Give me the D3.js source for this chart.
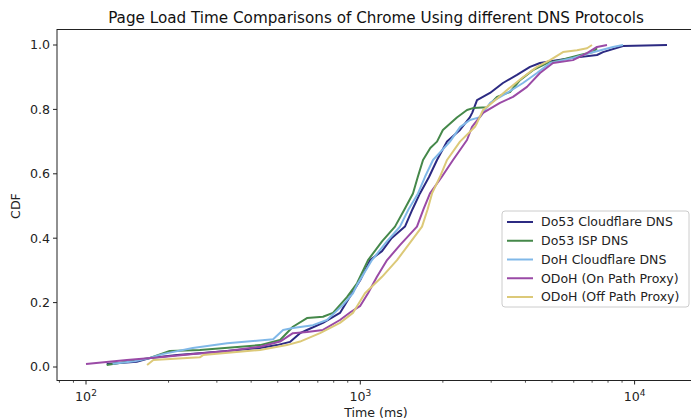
<!DOCTYPE html>
<html><head><meta charset="utf-8">
<script src="https://cdn.jsdelivr.net/npm/d3@7"></script>
<style>body{margin:0;background:#fff}svg{display:block;font-family:"DejaVu Sans",sans-serif}</style>
</head><body><svg id="c" width="691" height="420"></svg>
<script>
const seriesNames = ["Do53 Cloudflare DNS","Do53 ISP DNS","DoH Cloudflare DNS","ODoH (On Path Proxy)","ODoH (Off Path Proxy)"];
const seriesColors = ["#2c2a82","#45884a","#80b8e8","#9a4aa6","#dcc978"];
const xTicks = [100,1000,10000];
const xTickLabels = ["2","3","4"];
const yTicks = [0,0.2,0.4,0.6,0.8,1.0];

const do53Cloudflare = [[119,0.009],[153,0.016],[171,0.028],[215,0.037],[260,0.043],[327,0.05],[431,0.059],[497,0.068],[554,0.078],[603,0.105],[639,0.115],[731,0.137],[843,0.168],[933,0.229],[1000,0.27],[1085,0.332],[1200,0.36],[1300,0.40],[1455,0.436],[1550,0.49],[1650,0.539],[1780,0.59],[1904,0.643],[2071,0.70],[2309,0.736],[2511,0.776],[2560,0.79],[2664,0.829],[2971,0.851],[3312,0.882],[3726,0.907],[4156,0.932],[4520,0.944],[5214,0.953],[5962,0.96],[7295,0.969],[7670,0.978],[9073,0.997],[13124,1.0]];
const do53Isp = [[119,0.006],[171,0.028],[202,0.05],[260,0.053],[431,0.068],[510,0.084],[568,0.125],[639,0.152],[731,0.156],[795,0.168],[894,0.217],[973,0.26],[1067,0.332],[1200,0.39],[1338,0.436],[1450,0.49],[1556,0.539],[1620,0.59],[1693,0.643],[1800,0.68],[1904,0.70],[2000,0.736],[2250,0.775],[2449,0.798],[2575,0.804],[2897,0.807],[3150,0.839],[3513,0.854],[3821,0.891],[4262,0.922],[4793,0.944],[5346,0.953],[6324,0.969],[7054,0.978],[7295,0.99]];
const dohCloudflare = [[125,0.01],[150,0.018],[171,0.028],[190,0.04],[245,0.059],[327,0.074],[481,0.086],[523,0.115],[568,0.121],[672,0.13],[756,0.146],[865,0.193],[940,0.229],[973,0.255],[1103,0.332],[1250,0.39],[1395,0.436],[1500,0.49],[1623,0.539],[1720,0.59],[1841,0.643],[2123,0.70],[2309,0.745],[2511,0.767],[2732,0.776],[2971,0.82],[3426,0.851],[3918,0.882],[4407,0.913],[4916,0.944],[5962,0.96],[6878,0.975],[8343,0.994],[9073,1.0]];
const odohOnPath = [[100,0.009],[141,0.022],[186,0.03],[246,0.04],[327,0.05],[431,0.063],[510,0.079],[568,0.105],[639,0.109],[731,0.115],[843,0.146],[920,0.17],[1000,0.19],[1067,0.229],[1150,0.28],[1252,0.332],[1400,0.38],[1609,0.436],[1700,0.49],[1795,0.539],[1980,0.59],[2178,0.643],[2449,0.705],[2554,0.746],[2802,0.789],[3230,0.82],[3603,0.839],[4052,0.87],[4520,0.913],[5041,0.944],[5962,0.953],[6707,0.975],[7295,0.994],[7932,1.0]];
const odohOffPath = [[167,0.006],[176,0.022],[260,0.03],[267,0.037],[431,0.053],[540,0.068],[603,0.079],[713,0.105],[843,0.137],[940,0.168],[1040,0.229],[1200,0.28],[1361,0.332],[1500,0.38],[1679,0.436],[1760,0.49],[1826,0.539],[1950,0.59],[2071,0.643],[2309,0.70],[2619,0.746],[2664,0.758],[2802,0.798],[3046,0.823],[3426,0.86],[3918,0.90],[4407,0.932],[4916,0.953],[5483,0.978],[6166,0.984],[6707,0.99],[6994,1.0]];
const allSeries = [do53Cloudflare, do53Isp, dohCloudflare, odohOnPath, odohOffPath];

const svg = d3.select("#c");
const pLeft = 57, pRight = 695, pTop = 29.5, pBottom = 380.5;
const x = d3.scaleLog().domain([100,10000]).range([86,634.6]);
const y = d3.scaleLinear().domain([0,1]).range([367,45]);

svg.append("text").attr("x",(pLeft+pRight)/2).attr("y",22.5).attr("text-anchor","middle")
  .attr("font-size",15.2).attr("fill","#111").text("Page Load Time Comparisons of Chrome Using different DNS Protocols");

const line = d3.line().x(d=>x(d[0])).y(d=>y(d[1]));
const g = svg.append("g");
allSeries.forEach((s,i)=>{
  g.append("path").datum(s).attr("d",line).attr("fill","none")
   .attr("stroke",seriesColors[i]).attr("stroke-width",2).attr("stroke-linejoin","round");
});

svg.append("rect").attr("x",pLeft).attr("y",pTop).attr("width",pRight-pLeft).attr("height",pBottom-pTop)
  .attr("fill","none").attr("stroke","#222").attr("stroke-width",1);

yTicks.forEach(v=>{
  svg.append("line").attr("x1",pLeft-4).attr("x2",pLeft).attr("y1",y(v)).attr("y2",y(v)).attr("stroke","#222");
  svg.append("text").attr("x",pLeft-7).attr("y",y(v)).attr("dy","0.35em").attr("text-anchor","end")
    .attr("font-size",12.6).attr("fill","#222").text(d3.format(".1f")(v));
});
xTicks.forEach((v,i)=>{
  svg.append("line").attr("x1",x(v)).attr("x2",x(v)).attr("y1",pBottom).attr("y2",pBottom+4).attr("stroke","#222");
  const t = svg.append("text").attr("x",x(v)).attr("y",401).attr("text-anchor","middle").attr("font-size",12.6).attr("fill","#222");
  t.append("tspan").text("10");
  t.append("tspan").attr("font-size",9).attr("dy",-5.5).text(xTickLabels[i]);
});
const minors = [];
[10,100,1000,10000].forEach(d=>{for(let k=2;k<=9;k++) minors.push(d*k);});
minors.filter(v=>x(v)>=pLeft && x(v)<=pRight).forEach(v=>{
  svg.append("line").attr("x1",x(v)).attr("x2",x(v)).attr("y1",pBottom).attr("y2",pBottom+2.2).attr("stroke","#222").attr("stroke-width",0.8);
});

svg.append("text").attr("x",376).attr("y",416.5).attr("text-anchor","middle").attr("font-size",12.6).attr("fill","#222").text("Time (ms)");
svg.append("text").attr("transform","translate(20,206) rotate(-90)").attr("text-anchor","middle").attr("font-size",12.6).attr("fill","#222").text("CDF");

const lg = svg.append("g");
lg.append("rect").attr("x",502).attr("y",211).attr("width",187).attr("height",96).attr("rx",3)
  .attr("fill","#fff").attr("fill-opacity",0.8).attr("stroke","#ccc");
seriesNames.forEach((n,i)=>{
  const yy = 222 + i*18.75;
  lg.append("line").attr("x1",507).attr("x2",533).attr("y1",yy).attr("y2",yy).attr("stroke",seriesColors[i]).attr("stroke-width",2);
  lg.append("text").attr("x",541).attr("y",yy).attr("dy","0.35em").attr("font-size",12.5).attr("fill","#222").text(n);
});
</script></body></html>
